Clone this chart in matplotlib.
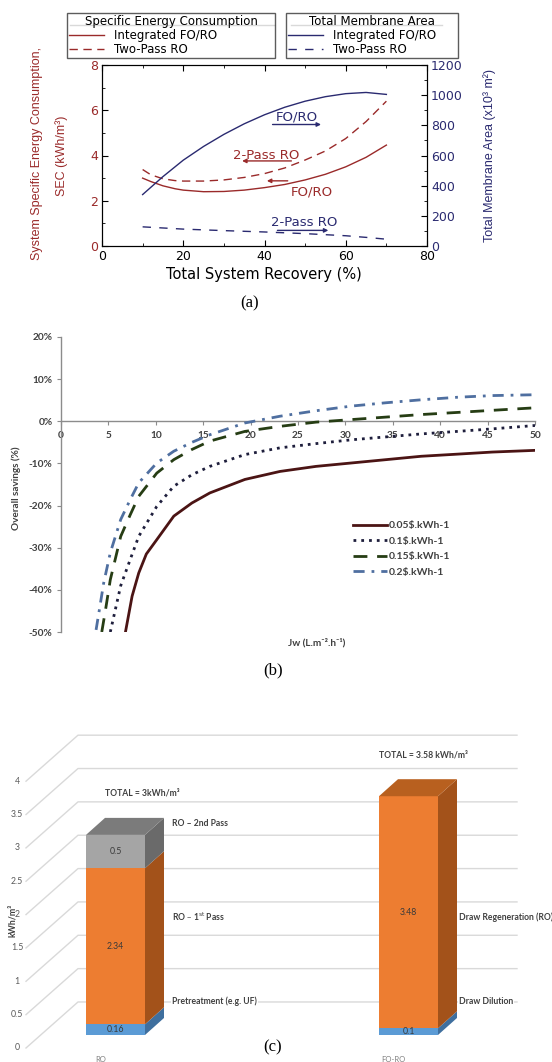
import matplotlib.pyplot as plt
from matplotlib.patches import Polygon
from matplotlib.lines import Line2D

W, H = 552, 1062

# ---- (a) SEC and membrane area vs total system recovery
rec_sec_fo = [10, 12, 15, 18, 20, 25, 30, 35, 40, 45, 50, 55, 60, 65, 70]
sec_fo = [3.0, 2.85, 2.66, 2.53, 2.47, 2.4, 2.41, 2.47, 2.58, 2.72, 2.92, 3.17, 3.5, 3.92, 4.46]
rec_sec_ro = [10, 12, 15, 18, 20, 25, 30, 35, 40, 45, 50, 55, 60, 65, 70]
sec_ro = [3.38, 3.15, 2.97, 2.89, 2.87, 2.87, 2.92, 3.03, 3.2, 3.45, 3.8, 4.2, 4.75, 5.5, 6.4]
rec_area_fo = [10, 15, 20, 25, 30, 35, 40, 45, 50, 55, 60, 65, 70]
area_fo = [341, 460, 569, 660, 740, 810, 870, 920, 960, 990, 1010, 1018, 1005]
rec_area_ro = [10, 20, 30, 40, 50, 60, 66, 70]
area_ro = [127, 112, 102, 93, 82, 68, 55, 45]

# ---- (b) overall savings vs water flux, per electricity price
jw_005 = [6.8, 7.5, 8.2, 9.0, 10.1, 11.9, 13.8, 15.7, 19.4, 23.1, 26.9, 30.6, 34.3, 38, 41.8, 45.5, 50]
sav_005 = [-50, -41.5, -36, -31.5, -28.1, -22.5, -19.4, -17, -13.8, -11.9, -10.7, -9.9, -9.1, -8.3, -7.8, -7.3, -6.9]
jw_01 = [5.2, 5.8, 6.3, 7.3, 8.2, 10.1, 11.9, 13.8, 15.7, 19.4, 23.1, 26.9, 30.6, 34.3, 38, 41.8, 45.5, 50]
sav_01 = [-50, -44, -39, -32.8, -27.3, -20.2, -15.4, -12.7, -10.7, -7.9, -6.3, -5.3, -4.4, -3.7, -3.0, -2.4, -1.8, -1.0]
jw_015 = [4.3, 4.7, 5.2, 5.8, 6.3, 7.3, 8.2, 10.1, 11.9, 13.8, 15.7, 19.4, 23.1, 26.9, 30.6, 34.3, 38, 41.8, 45.5, 50]
sav_015 = [-50, -44.7, -37.6, -32, -27.3, -22.2, -17.8, -12.3, -9.1, -6.7, -4.7, -2.4, -1.2, -0.2, 0.4, 1.0, 1.6, 2.1, 2.6, 3.2]
jw_02 = [3.7, 4.1, 4.5, 5.2, 6.3, 7.3, 8.2, 10.1, 11.9, 13.8, 15.7, 19.4, 23.1, 26.9, 30.6, 34.3, 38, 41.8, 45.5, 50]
sav_02 = [-49.5, -44, -38.4, -31.2, -23.3, -18.6, -14.6, -9.9, -7.1, -5.0, -3.2, -0.4, 1.2, 2.5, 3.6, 4.4, 5.1, 5.7, 6.1, 6.3]
price_labels = ['0.05\\$.kWh-1', '0.1\\$.kWh-1', '0.15\\$.kWh-1', '0.2\\$.kWh-1']

# ---- (c) energy breakdown
configs = ['RO', 'FO-RO']
ro_parts = [0.16, 2.34, 0.5]
ro_names = ['Pretreatment (e.g. UF)', 'RO – 1$^{\\rm st}$ Pass', 'RO – 2nd Pass']
foro_parts = [0.1, 3.48]
foro_names = ['Draw Dilution', 'Draw Regeneration (RO)']
c_ticks = [0, 0.5, 1, 1.5, 2, 2.5, 3, 3.5, 4]

plt.rcParams['font.family'] = 'DejaVu Sans'
fig = plt.figure(figsize=(W / 100, H / 100), dpi=100)


def fx(px):
    return px / W


def fy(py):
    return 1 - py / H


red = '#9a2a2a'
navy = '#2a2a70'

# ================= panel (a)
axa = fig.add_axes([fx(102), fy(246), fx(427) - fx(102), fy(65) - fy(246)])
axa2 = axa.twinx()
l1, = axa.plot(rec_sec_fo, sec_fo, color=red, lw=1.0)
l2, = axa.plot(rec_sec_ro, sec_ro, color=red, lw=1.0, ls=(0, (6, 4)))
l3, = axa2.plot(rec_area_fo, area_fo, color=navy, lw=1.0)
l4, = axa2.plot(rec_area_ro, area_ro, color=navy, lw=1.0, ls=(0, (6, 6)))
axa.set_xlim(0, 80)
axa.set_ylim(0, 8)
axa2.set_ylim(0, 1200)
axa.set_xticks(range(0, 81, 20))
axa.set_xticks(range(10, 80, 20), minor=True)
axa.set_yticks(range(0, 9, 2))
axa.set_yticks(range(1, 8, 2), minor=True)
axa2.set_yticks(range(0, 1201, 200))
axa2.set_yticks(range(100, 1200, 200), minor=True)
for a in (axa, axa2):
    a.tick_params(which='both', direction='in', labelsize=9, pad=3)
    a.tick_params(which='major', length=4)
    a.tick_params(which='minor', length=2)
    for s in a.spines.values():
        s.set_linewidth(0.8)
axa.tick_params(which='both', top=True)
axa.tick_params(axis='y', labelcolor=red)
axa2.tick_params(axis='y', labelcolor=navy)

axa.text(47.9, 5.68, 'FO/RO', color=navy, fontsize=9.5, ha='center', va='center')
axa.annotate('', xy=(54.6, 5.37), xytext=(41.3, 5.37),
             arrowprops=dict(arrowstyle='-|>', color=navy, lw=1, mutation_scale=6))
axa.text(40.4, 4.0, '2-Pass RO', color=red, fontsize=9.5, ha='center', va='center')
axa.annotate('', xy=(33.8, 3.76), xytext=(47.3, 3.76),
             arrowprops=dict(arrowstyle='-|>', color=red, lw=1, mutation_scale=6))
axa.annotate('', xy=(39.9, 2.88), xytext=(46.4, 2.88),
             arrowprops=dict(arrowstyle='-|>', color=red, lw=1, mutation_scale=6))
axa.text(51.6, 2.39, 'FO/RO', color=red, fontsize=9.5, ha='center', va='center')
axa.text(49.8, 1.02, '2-Pass RO', color=navy, fontsize=9.5, ha='center', va='center')
axa.annotate('', xy=(56.4, 0.69), xytext=(42.5, 0.69),
             arrowprops=dict(arrowstyle='-|>', color=navy, lw=1, mutation_scale=6))

fig.text(fx(102 + 162), fy(274), 'Total System Recovery (%)', fontsize=10.5,
         ha='center', va='center')
fig.text(fx(37), fy(154), 'System Specific Energy Consumption,', rotation=90,
         color=red, fontsize=9, family='Liberation Sans', ha='center', va='center')
fig.text(fx(62), fy(156), 'SEC (kWh/m³)', rotation=90, color=red, fontsize=9,
         family='Liberation Sans', ha='center', va='center')
fig.text(fx(490), fy(155), 'Total Membrane Area (x10³ m²)', rotation=90, color=navy,
         fontsize=9, family='Liberation Sans', ha='center', va='center')
fig.text(fx(250), fy(303), '(a)', family='Liberation Serif', fontsize=12,
         ha='center', va='center')

leg_kw = dict(loc='upper left', mode='expand', fontsize=8.5, title_fontsize=8.5,
              frameon=True, fancybox=False, edgecolor='#333333', borderpad=0.15,
              labelspacing=0.1, handlelength=3.0, handletextpad=0.8, borderaxespad=0)
leg1 = fig.legend([l1, l2], ['Integrated FO/RO', 'Two-Pass RO'],
                  title='Specific Energy Consumption',
                  bbox_to_anchor=(fx(67), fy(52), fx(275) - fx(67), fy(13) - fy(52)), **leg_kw)
leg2 = fig.legend([l3, l4], ['Integrated FO/RO', 'Two-Pass RO'],
                  title='Total Membrane Area',
                  bbox_to_anchor=(fx(286), fy(52), fx(458) - fx(286), fy(13) - fy(52)), **leg_kw)
for lg in (leg1, leg2):
    lg.get_frame().set_linewidth(1.0)
    lg.set_zorder(5)
fig.add_artist(Line2D([fx(70), fx(274)], [fy(25), fy(25)], color='#444444', lw=1))
fig.add_artist(Line2D([fx(291), fx(442)], [fy(25), fy(25)], color='#444444', lw=1))

# ================= panel (b)
axis_grey = '#8c8c8c'
txt_grey = '#404040'
axb = fig.add_axes([fx(61), fy(632), fx(535) - fx(61), fy(337) - fy(632)])
axb.set_xlim(0, 50)
axb.set_ylim(-50, 20)
axb.spines['top'].set_visible(False)
axb.spines['right'].set_visible(False)
axb.spines['bottom'].set_position(('data', 0))
for s in ('left', 'bottom'):
    axb.spines[s].set_color(axis_grey)
    axb.spines[s].set_linewidth(1.0)
axb.set_xticks(range(0, 51, 5))
yt = list(range(-50, 21, 10))
axb.set_yticks(yt)
axb.set_yticklabels([f'{v}%' for v in yt])
axb.tick_params(length=3, color=axis_grey, labelsize=7.3, labelcolor=txt_grey)
axb.tick_params(axis='x', pad=4)
axb.tick_params(axis='y', pad=3)
for lbl in axb.get_xticklabels() + axb.get_yticklabels():
    lbl.set_fontfamily('Lato')
    lbl.set_fontweight('bold')

axb.plot(jw_005, sav_005, color='#4b1414', lw=2, label=price_labels[0], zorder=3)
axb.plot(jw_01, sav_01, color='#1e1e3c', lw=2, ls=(0, (1, 1.8)), label=price_labels[1], zorder=3)
axb.plot(jw_015, sav_015, color='#263d14', lw=2, ls=(0, (5, 3.5)), label=price_labels[2], zorder=3)
axb.plot(jw_02, sav_02, color='#4f6fa0', lw=2, ls=(0, (4, 2.5, 1, 2.5)), label=price_labels[3], zorder=3)
axb.legend(loc='upper left', bbox_to_anchor=(fx(353), fy(521)), bbox_transform=fig.transFigure,
           frameon=False, borderpad=0, borderaxespad=0, handlelength=3.3, handletextpad=0.15,
           labelspacing=0.6, prop=dict(family='Lato', weight='bold', size=7.5),
           labelcolor=txt_grey)

fig.text(fx(16), fy(488), 'Overall savings (%)', rotation=90, family='Lato', weight='bold',
         fontsize=7.2, color=txt_grey, ha='center', va='center')
fig.text(fx(317), fy(643), 'Jw (L.m⁻².h⁻¹)', family=['Lato', 'DejaVu Sans'], weight='bold',
         fontsize=7.2, color=txt_grey, ha='center', va='center')
fig.text(fx(273), fy(670), '(b)', family='Liberation Serif', fontsize=12,
         ha='center', va='center')

# ================= panel (c) pseudo-3D stacked bars (x in pixels, y in kWh/m3)
px_per_unit = 66.7
y_zero_px = 1048
axc = fig.add_axes([0, 0, 1, fy(720)])
axc.set_xlim(0, W)
axc.set_ylim((y_zero_px - H) / px_per_unit, (y_zero_px - 720) / px_per_unit)
axc.axis('off')

grid_c = '#d9d9d9'
front_x, back_x, back_dy, right_x = 26, 78, 0.69, 517
for v in c_ticks:
    axc.plot([front_x, back_x, right_x], [v, v + back_dy, v + back_dy], color=grid_c, lw=1, zorder=1)
    axc.text(17, v, f'{v:g}', ha='center', va='center', fontsize=6.3, family='Lato', color='#595959')

base = 0.195
bar_w, dep_x, dep_y = 59, 19, 0.255
face_cols = ['#5b9bd5', '#ed7d31', '#a5a5a5']
side_cols = ['#3f6f9e', '#a3521a', '#6a6a6a']
top_cols = ['#4a82b8', '#b8601f', '#7b7b7b']


def bar3d(x0, parts):
    bottom = base
    for i, v in enumerate(parts):
        top = bottom + v
        axc.add_patch(Polygon([(x0, bottom), (x0 + bar_w, bottom), (x0 + bar_w, top), (x0, top)],
                              closed=True, fc=face_cols[i], ec='none', zorder=3))
        axc.add_patch(Polygon([(x0 + bar_w, bottom), (x0 + bar_w + dep_x, bottom + dep_y),
                               (x0 + bar_w + dep_x, top + dep_y), (x0 + bar_w, top)],
                              closed=True, fc=side_cols[i], ec='none', zorder=3))
        axc.text(x0 + bar_w / 2, (bottom + top) / 2, f'{v:g}', ha='center', va='center',
                 fontsize=6.3, family='Lato', color='#3a3a3a', zorder=4)
        bottom = top
    i = len(parts) - 1
    axc.add_patch(Polygon([(x0, bottom), (x0 + bar_w, bottom), (x0 + bar_w + dep_x, bottom + dep_y),
                           (x0 + dep_x, bottom + dep_y)], closed=True, fc=top_cols[i], ec='none', zorder=3))
    return bottom


bar_x = [86, 379]
for x0, parts in zip(bar_x, [ro_parts, foro_parts]):
    bar3d(x0, parts)
for x0, name in zip(bar_x, configs):
    axc.text(x0 + bar_w / 2 - 15, (y_zero_px - 1056) / px_per_unit, name, ha='center', va='top',
             fontsize=5.5, family='Lato', color='#7f7f7f')

lab_kw = dict(fontsize=6.2, family='Lato', weight='bold', color='#404040', va='center', zorder=5)
axc.text(142, 3.82, 'TOTAL = 3kWh/m³', ha='center', **lab_kw)
axc.text(423, 4.39, 'TOTAL = 3.58 kWh/m³', ha='center', **lab_kw)
ro_label_y = [0.70, 1.96, 3.36]
for name, yy in zip(ro_names, ro_label_y):
    axc.text(172, yy, name, ha='left', bbox=dict(fc='white', ec='none', pad=0.5), **lab_kw)
foro_label_y = [0.69, 1.96]
for name, yy in zip(foro_names, foro_label_y):
    axc.text(459, yy, name, ha='left', bbox=dict(fc='white', ec='none', pad=0.5), **lab_kw)

axc.text(12, (y_zero_px - 920) / px_per_unit, 'kWh/m³', rotation=90, ha='center', va='center',
         fontsize=6.3, family='Lato', weight='bold', color='#404040')
axc.text(273, (y_zero_px - 1047) / px_per_unit, '(c)', family='Liberation Serif', fontsize=12,
         ha='center', va='center')

fig.savefig('out.png', dpi=100)
